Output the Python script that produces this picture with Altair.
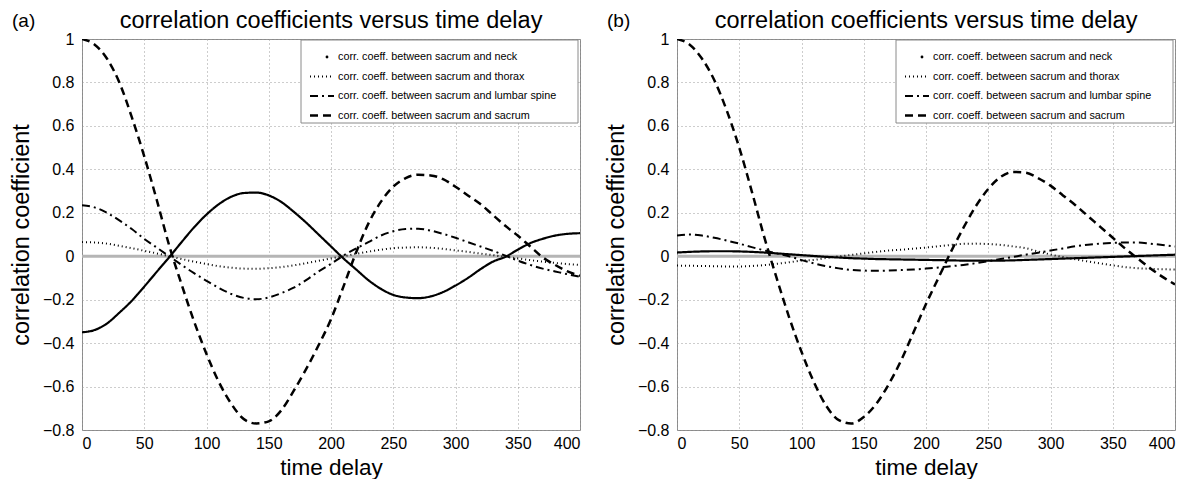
import altair as alt
import pandas as pd

FONT = "Liberation Sans"

delay = [0, 10, 20, 30, 40, 50, 60, 70, 80, 90, 100, 110, 120, 130, 140, 150, 160, 170, 180, 190, 200,
         210, 220, 230, 240, 250, 260, 270, 280, 290, 300, 310, 320, 330, 340, 350, 360, 370, 380, 390, 400]

# ---- panel (a) ----
a_neck = [-0.35, -0.34, -0.31, -0.26, -0.205, -0.14, -0.072, -0.005, 0.065, 0.133, 0.192, 0.24, 0.274, 0.291,
          0.293, 0.28, 0.25, 0.205, 0.155, 0.10, 0.045, -0.01, -0.06, -0.11, -0.15, -0.178, -0.19, -0.193,
          -0.185, -0.165, -0.135, -0.10, -0.06, -0.025, -0.003, 0.03, 0.06, 0.08, 0.095, 0.103, 0.106]
a_thorax = [0.065, 0.063, 0.058, 0.048, 0.037, 0.025, 0.013, 0.0, -0.013, -0.025, -0.036, -0.046, -0.053,
            -0.057, -0.058, -0.055, -0.05, -0.042, -0.032, -0.021, -0.01, 0.0, 0.011, 0.021, 0.03, 0.037,
            0.04, 0.041, 0.039, 0.034, 0.027, 0.02, 0.012, 0.005, -0.003, -0.01, -0.018, -0.025, -0.031,
            -0.036, -0.04]
a_lumbar = [0.235, 0.225, 0.20, 0.165, 0.125, 0.08, 0.04, 0.0, -0.04, -0.078, -0.113, -0.146, -0.174, -0.192,
            -0.198, -0.19, -0.17, -0.145, -0.11, -0.07, -0.035, 0.003, 0.035, 0.065, 0.095, 0.115, 0.125,
            0.127, 0.118, 0.103, 0.085, 0.065, 0.045, 0.025, 0.003, -0.02, -0.04, -0.057, -0.07, -0.083,
            -0.095]
a_sacrum = [1.0, 0.975, 0.91, 0.80, 0.64, 0.46, 0.26, 0.05, -0.13, -0.30, -0.45, -0.58, -0.68, -0.75,
            -0.77, -0.76, -0.71, -0.62, -0.52, -0.41, -0.29, -0.14, 0.015, 0.15, 0.25, 0.32, 0.36, 0.375,
            0.372, 0.355, 0.32, 0.28, 0.24, 0.19, 0.14, 0.095, 0.045, -0.005, -0.04, -0.07, -0.09]

# ---- panel (b) ----
b_neck = [0.017, 0.02, 0.022, 0.023, 0.023, 0.022, 0.02, 0.017, 0.013, 0.009, 0.005, 0.001, -0.003, -0.006,
          -0.009, -0.011, -0.013, -0.014, -0.015, -0.016, -0.017, -0.018, -0.019, -0.02, -0.02, -0.02,
          -0.02, -0.019, -0.017, -0.015, -0.013, -0.011, -0.009, -0.007, -0.005, -0.003, -0.001, 0.001,
          0.003, 0.005, 0.007]
b_thorax = [-0.043, -0.044, -0.045, -0.046, -0.047, -0.047, -0.045, -0.041, -0.035, -0.028, -0.02, -0.017,
            -0.008, -0.001, 0.006, 0.013, 0.02, 0.026, 0.03, 0.035, 0.04, 0.046, 0.052, 0.057, 0.058, 0.056,
            0.052, 0.045, 0.037, 0.022, 0.008, -0.004, -0.014, -0.024, -0.033, -0.042, -0.05, -0.055,
            -0.058, -0.06, -0.061]
b_lumbar = [0.095, 0.1, 0.095, 0.085, 0.072, 0.058, 0.042, 0.027, 0.013, 0.0, -0.018, -0.033, -0.046,
            -0.056, -0.063, -0.066, -0.067, -0.066, -0.064, -0.061, -0.057, -0.052, -0.046, -0.04, -0.032,
            -0.023, -0.013, -0.003, 0.007, 0.016, 0.026, 0.036, 0.046, 0.053, 0.058, 0.061, 0.063, 0.063,
            0.058, 0.052, 0.045]
b_sacrum = [1.0, 0.975, 0.91, 0.81, 0.67, 0.50, 0.30, 0.09, -0.10, -0.28, -0.44, -0.58, -0.69, -0.755,
            -0.77, -0.74, -0.68, -0.59, -0.48, -0.35, -0.22, -0.10, 0.02, 0.13, 0.23, 0.31, 0.365, 0.388,
            0.385, 0.36, 0.325, 0.28, 0.235, 0.185, 0.135, 0.085, 0.035, -0.01, -0.055, -0.095, -0.13]

series_keys = ["neck", "thorax", "lumbar", "sacrum"]
legend_labels = ["corr. coeff. between sacrum and neck",
                 "corr. coeff. between sacrum and thorax",
                 "corr. coeff. between sacrum and lumbar spine",
                 "corr. coeff. between sacrum and sacrum"]
x_ticks = [0, 50, 100, 150, 200, 250, 300, 350, 400]
y_ticks = [-0.8, -0.6, -0.4, -0.2, 0, 0.2, 0.4, 0.6, 0.8, 1]
title_text = "correlation coefficients versus time delay"

W, H = 498, 391

line_styles = {
    "neck": dict(strokeDash=[1, 0], strokeWidth=2.2),
    "thorax": dict(strokeDash=[1, 3], strokeWidth=2),
    "lumbar": dict(strokeDash=[8, 4, 2, 4], strokeWidth=2),
    "sacrum": dict(strokeDash=[8, 5], strokeWidth=2.5),
}

xscale = alt.Scale(domain=[0, 400], nice=False, zero=False)
yscale = alt.Scale(domain=[-0.8, 1], nice=False, zero=False)

axis_common = dict(grid=True, gridDash=[1, 3], gridColor="#9a9a9a", gridWidth=1, ticks=False,
                   domain=False, labelFont=FONT, labelFontSize=16, labelColor="black",
                   titleFont=FONT, titleFontWeight="normal", titleColor="black")
xaxis = alt.Axis(title="time delay", values=x_ticks, format="d", labelPadding=5, titlePadding=5,
                 titleFontSize=22.5, **axis_common)
yaxis = alt.Axis(title="correlation coefficient", values=y_ticks, format="~g", labelPadding=8,
                 titlePadding=9, titleFontSize=23.5, **axis_common)


def panel(tag, vals):
    df = pd.concat([pd.DataFrame({"delay": delay, "value": v, "series": k})
                    for k, v in zip(series_keys, vals)], ignore_index=True)
    zero = alt.Chart(pd.DataFrame({"value": [0.0]})).mark_rule(
        color="#b5b5b5", strokeWidth=3).encode(
        y=alt.Y("value:Q", scale=yscale, axis=yaxis))
    layers = [zero]
    for k in series_keys:
        layers.append(
            alt.Chart(df).transform_filter(alt.datum.series == k).mark_line(
                color="black", interpolate="monotone", clip=True, **line_styles[k]).encode(
                x=alt.X("delay:Q", scale=xscale, axis=xaxis),
                y=alt.Y("value:Q", scale=yscale, axis=yaxis))
        )
    # legend box
    one = pd.DataFrame({"d": [0]})
    lx0, lx1, ly0, ly1 = 219, 496, 1, 84
    layers.append(alt.Chart(one).mark_rect(fill="white", stroke="#8a8a8a", strokeWidth=1).encode(
        x=alt.value(lx0), x2=alt.value(lx1), y=alt.value(ly0), y2=alt.value(ly1)))
    rows = [18, 37.5, 57, 76.5]
    for k, lab, ry in zip(series_keys, legend_labels, rows):
        if k == "neck":
            layers.append(alt.Chart(one).mark_point(filled=True, color="black", size=8, opacity=1).encode(
                x=alt.value(245), y=alt.value(ry)))
        else:
            layers.append(alt.Chart(one).mark_rule(color="black", **line_styles[k]).encode(
                x=alt.value(228), x2=alt.value(252), y=alt.value(ry)))
        layers.append(alt.Chart(one).mark_text(align="left", baseline="middle", font=FONT, fontSize=10.8,
                                               color="black").encode(
            x=alt.value(256), y=alt.value(ry), text=alt.value(lab)))
    # panel tag and title
    layers.append(alt.Chart(one).mark_text(align="left", baseline="alphabetic", font=FONT, fontSize=19,
                                           color="black").encode(
        x=alt.value(-70), y=alt.value(-12), text=alt.value(tag)))
    layers.append(alt.Chart(one).mark_text(align="center", baseline="alphabetic", font=FONT, fontSize=23.5,
                                           color="black").encode(
        x=alt.value(W / 2), y=alt.value(-11), text=alt.value(title_text)))
    return alt.layer(*layers).properties(width=W, height=H)


pa = panel("(a)", [a_neck, a_thorax, a_lumbar, a_sacrum])
pb = panel("(b)", [b_neck, b_thorax, b_lumbar, b_sacrum])

chart = alt.hconcat(pa, pb, spacing=21).properties(
    padding={"left": 0, "top": 0, "right": 0, "bottom": 0}
).configure_view(stroke="#8a8a8a", strokeWidth=1)

chart.save("out.html", embed_options={"renderer": "svg", "actions": False})
